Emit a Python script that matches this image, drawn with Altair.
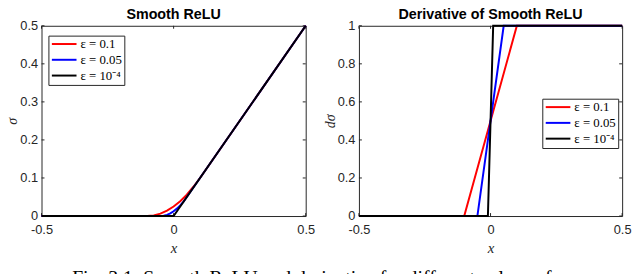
import altair as alt
import pandas as pd

SANS = "Liberation Sans"
SERIF = "Liberation Serif"
INK = "#262626"

LABELS = ["ε = 0.1", "ε = 0.05", "ε = 10⁻⁴"]
COLORS = ["#ff0000", "#0000ff", "#000000"]

# Smooth ReLU (left panel)
relu_x_a = [-0.5, -0.1, -0.075, -0.05, -0.025, 0.0, 0.025, 0.05, 0.075, 0.1, 0.5]
relu_y_a = [0.0, 0.0, 0.0016, 0.0063, 0.014, 0.025, 0.039, 0.056, 0.077, 0.1, 0.5]
relu_x_b = [-0.5, -0.05, -0.0375, -0.025, -0.0125, 0.0, 0.0125, 0.025, 0.0375, 0.05, 0.5]
relu_y_b = [0.0, 0.0, 0.0008, 0.0031, 0.007, 0.0125, 0.0195, 0.028, 0.038, 0.05, 0.5]
relu_x_c = [-0.5, 0.0, 0.5]
relu_y_c = [0.0, 0.0, 0.5]

# Derivative of Smooth ReLU (right panel)
der_x_a = [-0.5, -0.1, 0.1, 0.5]
der_y_a = [0.0, 0.0, 1.0, 1.0]
der_x_b = [-0.5, -0.05, 0.05, 0.5]
der_y_b = [0.0, 0.0, 1.0, 1.0]
der_x_c = [-0.5, -0.01, 0.0, 0.01, 0.5]
der_y_c = [0.0, 0.0, 0.5, 1.0, 1.0]

x_ticks = [-0.5, 0, 0.5]
relu_y_ticks = [0, 0.1, 0.2, 0.3, 0.4, 0.5]
der_y_ticks = [0, 0.2, 0.4, 0.6, 0.8, 1]

TITLE_L = "Smooth ReLU"
TITLE_R = "Derivative of Smooth ReLU"
CAPTION = "Fig. 3.1: Smooth ReLU and derivative for different values of ε"


def panel(curves, yticks, ymax, ytitle, title, w, h, lx, ly):
    xs = alt.Scale(domain=[-0.5, 0.5], nice=False, zero=False)
    ys = alt.Scale(domain=[0, ymax], nice=False, zero=False)
    xax = alt.Axis(
        values=x_ticks,
        labelExpr="datum.value < 0 ? '-' + format(-datum.value, '~g') : format(datum.value, '~g')",
        tickSize=0, domain=False, grid=False, labelFlush=False, labelOverlap=False,
        labelPadding=8, labelFont=SANS, labelFontSize=13, labelColor=INK,
        title="x", titleFont=SERIF, titleFontStyle="italic", titleFontWeight="normal",
        titleFontSize=15, titlePadding=4, titleColor=INK,
    )
    yax = alt.Axis(
        values=yticks,
        labelExpr="format(datum.value, '~g')",
        tickSize=0, domain=False, grid=False, labelFlush=False, labelOverlap=False,
        labelPadding=4, labelFont=SANS, labelFontSize=13, labelColor=INK,
        title=ytitle, titleFont=SERIF, titleFontStyle="italic", titleFontWeight="normal",
        titleFontSize=14, titlePadding=0, titleColor=INK,
    )
    X = alt.X("x:Q", scale=xs, axis=xax)
    Y = alt.Y("y:Q", scale=ys, axis=yax)
    color = alt.Color(
        "s:N",
        scale=alt.Scale(domain=LABELS, range=COLORS),
        legend=alt.Legend(
            title=None, orient="none", legendX=lx, legendY=ly,
            symbolType="M-2.5,0H2.5", symbolSize=100, symbolStrokeWidth=2,
            symbolOffset=7.5, labelOffset=10,
            labelFont=SERIF, labelFontSize=13, labelColor="black",
            strokeColor=INK, fillColor="white", padding=2, rowPadding=2,
        ),
    )
    layers = []
    for (xv, yv), lab in zip(curves, LABELS):
        df = pd.DataFrame({"x": xv, "y": yv, "s": [lab] * len(xv)})
        layers.append(
            alt.Chart(df).mark_line(strokeWidth=2).encode(x=X, y=Y, color=color)
        )
    ytdf = pd.DataFrame({"y": yticks})
    xtdf = pd.DataFrame({"x": x_ticks})
    ts = dict(color=INK, strokeWidth=1)
    ticks = [
        alt.Chart(ytdf).mark_rule(**ts).encode(y=Y, x=alt.value(0), x2=alt.value(3)),
        alt.Chart(ytdf).mark_rule(**ts).encode(y=Y, x=alt.value(w - 3), x2=alt.value(w)),
        alt.Chart(xtdf).mark_rule(**ts).encode(x=X, y=alt.value(h - 3), y2=alt.value(h)),
        alt.Chart(xtdf).mark_rule(**ts).encode(x=X, y=alt.value(0), y2=alt.value(3)),
    ]
    return alt.layer(*ticks, *layers).properties(
        width=w, height=h,
        title=alt.TitleParams(
            text=title, font=SANS, fontSize=14.5, fontWeight="bold", color="black",
            anchor="middle", frame="group", offset=-3,
        ),
    )


H = 193
left = panel(
    [(relu_x_a, relu_y_a), (relu_x_b, relu_y_b), (relu_x_c, relu_y_c)],
    relu_y_ticks, 0.5, "σ", TITLE_L, 268, H, 7, 10,
)
right = panel(
    [(der_x_a, der_y_a), (der_x_b, der_y_b), (der_x_c, der_y_c)],
    der_y_ticks, 1.0, "dσ", TITLE_R, 267, H, 186, 74,
)

chart = (
    alt.hconcat(left, right, spacing=54, bounds="flush")
    .resolve_scale(color="independent")
    .properties(
        padding={"top": -3, "left": -3, "right": 0, "bottom": 0},
        title=alt.TitleParams(
            text=CAPTION, orient="bottom", font=SERIF, fontSize=20, fontWeight="normal",
            color="black", anchor="middle", offset=12,
        ),
    )
    .configure(background="white")
    .configure_view(stroke=INK, strokeWidth=1)
)

chart.save("out.html", embed_options={"renderer": "svg", "actions": False})
